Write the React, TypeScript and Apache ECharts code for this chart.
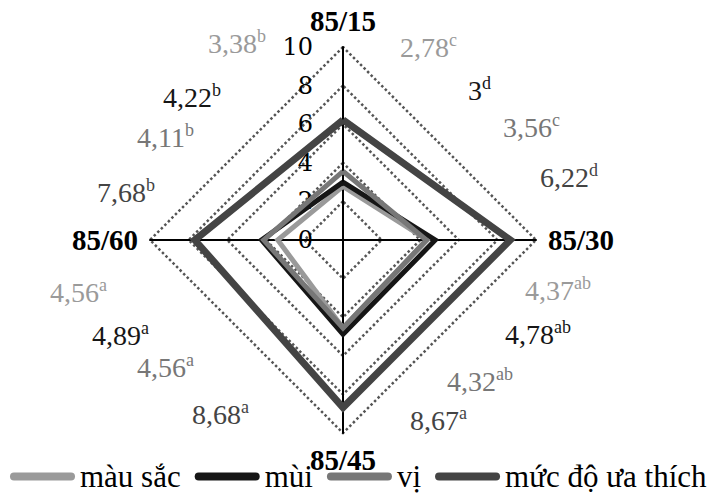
import React, { useEffect, useRef } from "react";
import * as echarts from "echarts";

// Indicators in natural order
const categories = ["85/15", "85/30", "85/45", "85/60"];
const seriesNames = ["màu sắc", "mùi", "vị", "mức độ ưa thích"];
const mauSac = [2.78, 4.37, 4.56, 3.38];
const mui = [3, 4.78, 4.89, 4.22];
const vi = [3.56, 4.32, 4.56, 4.11];
const uaThich = [6.22, 8.67, 8.68, 7.68];
const mauSacSig = ["c", "ab", "a", "b"];
const muiSig = ["d", "ab", "a", "b"];
const viSig = ["c", "ab", "a", "b"];
const uaThichSig = ["d", "a", "a", "b"];
const tickMax = 10;
const tickSplit = 5;

const seriesValues = [mauSac, mui, vi, uaThich];
const seriesSigs = [mauSacSig, muiSig, viSig, uaThichSig];
const colors = ["#9a9a9a", "#161616", "#777777", "#444444"];
const widths = [5, 5, 5, 7];

// Radar places indicators counter-clockwise from the top
const order = [0, 3, 2, 1];

// Page keeps its 8px body margin; layout is given in page pixels
const M = 8;
// Annotation layout (left x, middle y) per indicator per series, page pixels
const labelPos = [
  [[400, 47], [468, 90], [503, 127], [540, 177]],
  [[525, 290], [505, 334], [447, 381], [410, 420]],
  [[50, 292], [92, 335], [137, 367], [192, 414]],
  [[208, 43], [163, 97], [137, 137], [97, 192]],
];

const FONT = "Liberation Serif";

function fmt(v: number) {
  return Number.isInteger(v) ? String(v) : v.toFixed(2).replace(".", ",");
}

function measure(text: string, size: number) {
  const c = document.createElement("canvas").getContext("2d")!;
  c.font = `${size}px ${FONT}`;
  return c.measureText(text).width;
}

export default function App() {
  const ref = useRef<HTMLDivElement>(null);
  useEffect(() => {
    const chart = echarts.init(ref.current!, null, { renderer: "svg" });
    const graphics: any[] = [];
    categories.forEach((_, ci) => {
      seriesValues.forEach((vals, si) => {
        const [px, py] = labelPos[ci][si];
        const x = px - M;
        const y = py - M;
        const main = fmt(vals[ci]);
        graphics.push({
          type: "text",
          x,
          y,
          style: {
            text: `{v|${main}}{s|${seriesSigs[si][ci]}}`,
            verticalAlign: "middle",
            rich: {
              v: { fontSize: 28, fontFamily: FONT, fill: colors[si] },
              s: { fontSize: 18, fontFamily: FONT, fill: colors[si], padding: [0, 0, 14, 0] },
            },
          },
        });
      });
    });

    chart.setOption({
      animation: false,
      color: colors,
      legend: {
        left: 10 - M,
        top: 461 - M,
        padding: 0,
        itemWidth: 65,
        itemHeight: 8,
        itemGap: 14,
        icon: "path://M4,0 H61 A4,4 0 0 1 61,8 H4 A4,4 0 0 1 4,0 Z",
        textStyle: { fontFamily: "serif", fontSize: 31, color: "#000" },
        data: seriesNames,
      },
      radar: {
        center: [343 - M, 240 - M],
        radius: 193,
        shape: "polygon",
        splitNumber: tickSplit,
        nameGap: 12,
        axisName: { color: "#000", fontFamily: "Times New Roman", fontSize: 29, fontWeight: "bold" },
        axisLine: { show: true, lineStyle: { color: "#000", width: 2 } },
        axisTick: { show: false },
        splitLine: { lineStyle: { color: "#555", width: 2.5, type: "dotted" } },
        splitArea: { show: false },
        axisLabel: { show: true, fontFamily: "DejaVu Serif", fontSize: 24, color: "#000", margin: 30 },
        indicator: order.map((i, k) => ({
          name: categories[i],
          min: 0,
          max: tickMax,
          ...(k === 0 ? {} : { axisLabel: { show: false } }),
        })),
      },
      series: [
        {
          type: "radar",
          symbol: "none",
          data: seriesValues.map((vals, si) => ({
            name: seriesNames[si],
            value: order.map((i) => vals[i]),
            lineStyle: { color: colors[si], width: widths[si], join: "miter" },
            itemStyle: { color: colors[si] },
          })),
        },
      ],
      graphic: graphics,
    });
    return () => chart.dispose();
  }, []);
  return <div ref={ref} style={{ width: 719 - M, height: 494 - M }} />;
}
